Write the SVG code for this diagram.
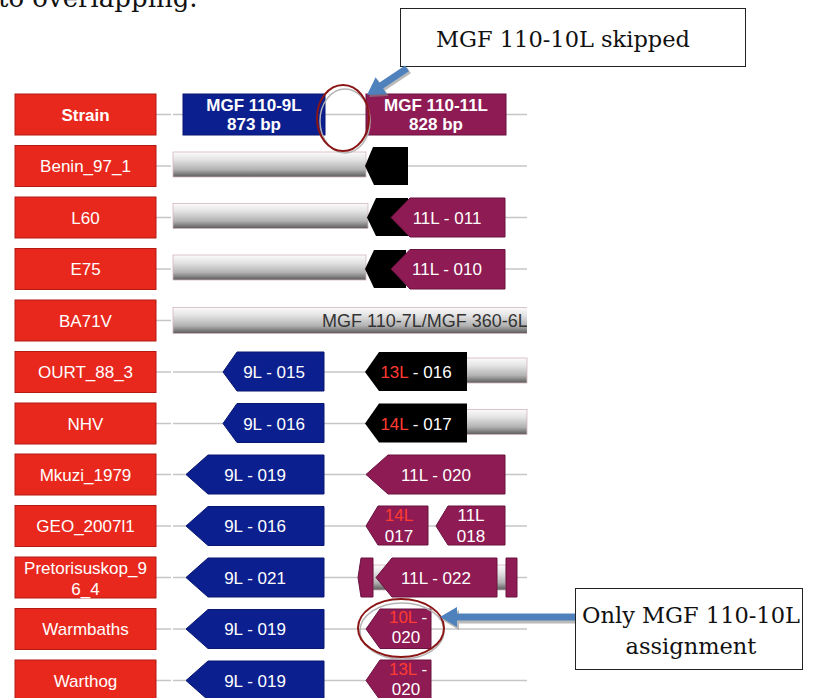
<svg xmlns="http://www.w3.org/2000/svg" width="814" height="698" viewBox="0 0 814 698">
<defs>
<linearGradient id="g" x1="0" y1="0" x2="0" y2="1">
<stop offset="0" stop-color="#fbfbfb"/>
<stop offset="0.3" stop-color="#e4e4e4"/>
<stop offset="0.7" stop-color="#b2b2b2"/>
<stop offset="1" stop-color="#5a5a5a"/>
</linearGradient>
<clipPath id="clipR"><rect x="0" y="0" width="527" height="698"/></clipPath>
<style>
.strain{fill:#e8281d;stroke:#b31b12;stroke-width:1}
.lbl{font-family:"Liberation Sans",Arial,sans-serif;font-size:17px;fill:#fff;text-anchor:middle}
.b{font-weight:bold}
.blue{fill:#0c1f8f;stroke:#081770;stroke-width:1}
.purple{fill:#8e1b53;stroke:#6a1240;stroke-width:1}
.black{fill:#000}
.bar{fill:url(#g);stroke:#d2b6bb;stroke-width:0.8}
.track{stroke:#c6c6c6;stroke-width:1.5;fill:none}
.red{fill:#ff3b30}
.note{font-family:"DejaVu Serif",serif;font-size:22.5px;fill:#111;text-anchor:middle}
.box{fill:#fff;stroke:#222;stroke-width:1}
.arrow{fill:#4f81bd}
.shadow{fill:#8c8c8c;opacity:0.6}
.ring{fill:none;stroke:#8b1515;stroke-width:2}
.ringsh{fill:none;stroke:#b4b4b4;stroke-width:1.5}
</style>
</defs>
<rect width="814" height="698" fill="#fff"/>
<text x="-2" y="7" style="font-family:'DejaVu Serif',serif;font-size:26px;fill:#111">to overlapping.</text>

<g id="tracks">
<path class="track" d="M156 114.5H171M173 114.5H527M156 166H171M173 166H527M156 217.5H171M173 217.5H527M156 269H171M173 269H527M156 320.5H171M173 320.5H527M156 372H171M173 372H527M156 423.5H171M173 423.5H527M156 474.5H171M173 474.5H527M156 526H171M173 526H527M156 577.5H171M173 577.5H527M156 629H171M173 629H527M156 680.5H171M173 680.5H527"/>
</g>

<!-- strain labels -->
<g id="s-strain"><rect class="strain" x="15" y="94" width="141" height="41"/><text class="lbl b" x="85.5" y="120.5">Strain</text></g>
<g id="s-benin"><rect class="strain" x="15" y="145.5" width="141" height="41"/><text class="lbl" x="85.5" y="172">Benin_97_1</text></g>
<g id="s-l60"><rect class="strain" x="15" y="197" width="141" height="41"/><text class="lbl" x="85.5" y="223.5">L60</text></g>
<g id="s-e75"><rect class="strain" x="15" y="248.5" width="141" height="41"/><text class="lbl" x="85.5" y="275">E75</text></g>
<g id="s-ba71v"><rect class="strain" x="15" y="300" width="141" height="41"/><text class="lbl" x="85.5" y="326.5">BA71V</text></g>
<g id="s-ourt"><rect class="strain" x="15" y="351.5" width="141" height="41"/><text class="lbl" x="85.5" y="378">OURT_88_3</text></g>
<g id="s-nhv"><rect class="strain" x="15" y="403" width="141" height="41"/><text class="lbl" x="85.5" y="429.5">NHV</text></g>
<g id="s-mkuzi"><rect class="strain" x="15" y="454" width="141" height="41"/><text class="lbl" x="85.5" y="480.5">Mkuzi_1979</text></g>
<g id="s-geo"><rect class="strain" x="15" y="505.5" width="141" height="41"/><text class="lbl" x="85.5" y="532">GEO_2007l1</text></g>
<g id="s-pretori"><rect class="strain" x="15" y="557" width="141" height="41"/><text class="lbl" x="85.5" y="574">Pretorisuskop_9</text><text class="lbl" x="85.5" y="595">6_4</text></g>
<g id="s-warmbaths"><rect class="strain" x="15" y="608.5" width="141" height="41"/><text class="lbl" x="85.5" y="635">Warmbaths</text></g>
<g id="s-warthog"><rect class="strain" x="15" y="660" width="141" height="41"/><text class="lbl" x="85.5" y="686.5">Warthog</text></g>

<!-- header genes -->
<g id="h-9l"><rect class="blue" x="183" y="94" width="142" height="41"/><text class="lbl b" x="254" y="111">MGF 110-9L</text><text class="lbl b" x="254" y="130">873 bp</text></g>
<g id="h-11l"><rect class="purple" x="366" y="94" width="140" height="41"/><text class="lbl b" x="436" y="111">MGF 110-11L</text><text class="lbl b" x="436" y="130">828 bp</text></g>

<!-- Benin -->
<g id="benin-genes">
<rect class="bar" x="173" y="152" width="193" height="25"/>
<polygon class="black" points="373,147 408,147 408,185 374,185 365,166"/>
</g>
<!-- L60 -->
<g id="l60-genes">
<rect class="bar" x="173" y="203.5" width="195" height="25"/>
<polygon class="black" points="376,198 408,198 408,236 376,236 367,217.5"/>
<polygon class="purple" points="391,217.5 410,198 505,198 505,237 410,237"/>
<text class="lbl" x="447" y="223.5">11L - 011</text>
</g>
<!-- E75 -->
<g id="e75-genes">
<rect class="bar" x="173" y="255" width="193" height="25"/>
<polygon class="black" points="374,250 406,250 406,288 374,288 365,269"/>
<polygon class="purple" points="391,269 410,249.5 505,249.5 505,289 410,289"/>
<text class="lbl" x="447" y="275">11L - 010</text>
</g>
<!-- BA71V -->
<g id="ba71v-genes" clip-path="url(#clipR)">
<rect class="bar" x="173" y="307.5" width="360" height="26"/>
<text x="322" y="327" style="font-family:'Liberation Sans',Arial,sans-serif;font-size:18px;fill:#333">MGF 110-7L/MGF 360-6L</text>
</g>
<!-- OURT -->
<g id="ourt-genes">
<polygon class="blue" points="223,372 237,352 324,352 324,391 237,391"/>
<text class="lbl" x="274" y="378">9L - 015</text>
<rect class="bar" x="460" y="358" width="67" height="25"/>
<polygon class="black" points="365,372 379,352 467,352 467,391 379,391"/>
<text class="lbl" x="416" y="378"><tspan class="red">13L</tspan> - 016</text>
</g>
<!-- NHV -->
<g id="nhv-genes">
<polygon class="blue" points="223,423.5 237,403.5 324,403.5 324,442.5 237,442.5"/>
<text class="lbl" x="274" y="429.5">9L - 016</text>
<rect class="bar" x="460" y="409.5" width="67" height="25"/>
<polygon class="black" points="365,423.5 379,403.5 467,403.5 467,442.5 379,442.5"/>
<text class="lbl" x="416" y="429.5"><tspan class="red">14L</tspan> - 017</text>
</g>
<!-- Mkuzi -->
<g id="mkuzi-genes">
<polygon class="blue" points="186,474.5 208,455 324,455 324,494 208,494"/>
<text class="lbl" x="255" y="480.5">9L - 019</text>
<polygon class="purple" points="366,474.5 388,455 505,455 505,494 388,494"/>
<text class="lbl" x="436" y="480.5">11L - 020</text>
</g>
<!-- GEO -->
<g id="geo-genes">
<polygon class="blue" points="186,526 208,506.5 324,506.5 324,545.5 208,545.5"/>
<text class="lbl" x="255" y="532">9L - 016</text>
<polygon class="purple" points="366,526 378,506 428,506 428,545 378,545"/>
<text class="lbl" x="399" y="521"><tspan class="red">14L</tspan></text>
<text class="lbl" x="399" y="542">017</text>
<polygon class="purple" points="436,526 448,506 505,506 505,545 448,545"/>
<text class="lbl" x="471" y="521">11L</text>
<text class="lbl" x="471" y="542">018</text>
</g>
<!-- Pretori -->
<g id="pretori-genes">
<polygon class="blue" points="186,577.5 208,558 324,558 324,597 208,597"/>
<text class="lbl" x="255" y="583.5">9L - 021</text>
<rect class="bar" x="373" y="565" width="133" height="25"/>
<polygon class="purple" points="361,558 373,558 373,597 361,597 358,577.5"/>
<polygon class="purple" points="376,577.5 392,558 497,558 497,597 392,597"/>
<polygon class="purple" points="506,558 517,558 517,597 506,597"/>
<text class="lbl" x="436" y="583.5">11L - 022</text>
</g>
<!-- Warmbaths -->
<g id="warmbaths-genes">
<polygon class="blue" points="186,629 208,609.5 324,609.5 324,648.5 208,648.5"/>
<text class="lbl" x="255" y="635">9L - 019</text>
<polygon class="purple" points="366,629 380,609 431,609 431,648.5 380,648.5"/>
<text class="lbl" x="408" y="623"><tspan class="red">10L</tspan> -</text>
<text class="lbl" x="406" y="643">020</text>
</g>
<!-- Warthog -->
<g id="warthog-genes">
<polygon class="blue" points="186,680.5 208,661 324,661 324,700 208,700"/>
<text class="lbl" x="255" y="686.5">9L - 019</text>
<polygon class="purple" points="366,680.5 380,660 431,660 431,700 380,700"/>
<text class="lbl" x="408" y="674.5"><tspan class="red">13L</tspan> -</text>
<text class="lbl" x="406" y="694.5">020</text>
</g>

<!-- highlight rings -->
<g id="ring-top">
<ellipse class="ringsh" cx="345" cy="121" rx="25" ry="32"/>
<ellipse class="ring" cx="343" cy="118" rx="26" ry="33"/>
</g>
<g id="ring-bottom">
<ellipse class="ringsh" cx="402" cy="631" rx="42" ry="28"/>
<ellipse class="ring" cx="401" cy="628" rx="43" ry="29"/>
</g>

<!-- callouts -->
<g id="callout-skipped">
<rect class="box" x="400.5" y="8.5" width="345" height="58"/>
<text class="note" x="563" y="47">MGF 110-10L skipped</text>
</g>
<g id="callout-only">
<rect class="box" x="575.5" y="588.5" width="227" height="81"/>
<text class="note" x="691" y="623">Only MGF 110-10L</text>
<text class="note" x="691" y="654">assignment</text>
</g>

<g id="connectors">
<g transform="translate(369,97) rotate(-33.6)"><polygon class="shadow" points="0,0 17,-10 17,-3.5 48,-3.5 48,3.5 17,3.5 17,10"/></g>
<g transform="translate(367,95) rotate(-33.6)"><polygon class="arrow" points="0,0 17,-10 17,-3.5 48,-3.5 48,3.5 17,3.5 17,10"/></g>
<g transform="translate(442,620)"><polygon class="shadow" points="0,0 17,-10 17,-3.5 133,-3.5 133,3.5 17,3.5 17,10"/></g>
<g transform="translate(440,617)"><polygon class="arrow" points="0,0 17,-10 17,-3.5 135,-3.5 135,3.5 17,3.5 17,10"/></g>
</g>
</svg>
